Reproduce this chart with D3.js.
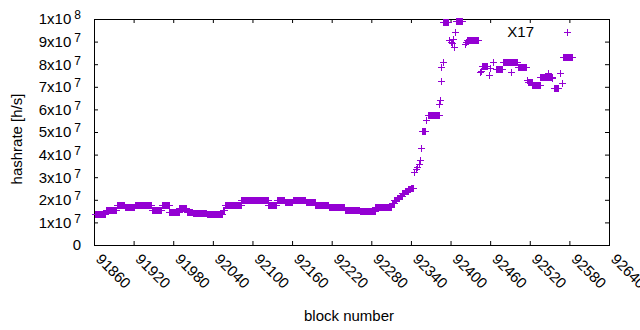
<!DOCTYPE html>
<html>
<head>
<meta charset="utf-8">
<script src="https://cdn.jsdelivr.net/npm/d3@7"></script>
<style>
  body { margin: 0; background: #fff; }
  svg { display: block; font-family: "Liberation Sans", Arial, sans-serif; }
  .axis text { font-size: 15px; fill: #000; }
  .axis line { stroke: #000; }
</style>
</head>
<body>
<svg id="chart" width="640" height="330"></svg>
<script>
// hashrate, in units of 1e7 h/s
// runs: [first block, last block, hashrate] where the value stays flat
const runs = [
  [91862, 91877, 1.35], [91878, 91894, 1.53], [91895, 91906, 1.79],
  [91907, 91921, 1.70], [91922, 91947, 1.79], [91948, 91962, 1.57],
  [91963, 91973, 1.75], [91974, 91988, 1.48], [91989, 92000, 1.62],
  [92001, 92009, 1.48], [92010, 92030, 1.42], [92031, 92054, 1.35],
  [92055, 92057, 1.55], [92058, 92082, 1.76], [92083, 92100, 2.00],
  [92101, 92123, 1.97], [92124, 92136, 1.79], [92137, 92148, 2.01],
  [92149, 92160, 1.92], [92161, 92180, 1.97], [92181, 92194, 1.90],
  [92195, 92215, 1.77], [92216, 92239, 1.66], [92240, 92262, 1.55],
  [92263, 92285, 1.50], [92286, 92310, 1.66], [92311, 92314, 1.85],
  [92315, 92318, 1.98], [92319, 92322, 2.08], [92323, 92326, 2.17],
  [92327, 92330, 2.28], [92331, 92335, 2.38], [92336, 92339, 2.46],
  [92340, 92343, 2.53], [92357, 92362, 5.04], [92366, 92382, 5.75],
  [92389, 92396, 9.85], [92408, 92418, 9.93], [92425, 92442, 9.07],
  [92447, 92455, 7.90], [92469, 92478, 7.80], [92479, 92501, 8.10],
  [92502, 92515, 7.86], [92517, 92523, 7.20], [92524, 92535, 7.08],
  [92536, 92553, 7.45], [92557, 92562, 6.95], [92570, 92584, 8.30]
];
// single blocks that sit apart from the runs: [block, hashrate]
const singles = [
  [92345, 3.23], [92347, 3.35], [92349, 3.45], [92352, 3.58], [92354, 3.76],
  [92356, 4.31], [92363, 5.53], [92383, 6.24], [92384, 6.42], [92386, 7.26],
  [92386, 7.89], [92388, 8.11], [92398, 9.05], [92400, 9.00], [92402, 8.95],
  [92404, 9.10], [92405, 8.75], [92407, 9.42], [92422, 8.90], [92424, 9.00],
  [92445, 7.65], [92446, 7.72], [92458, 7.52], [92460, 7.83], [92464, 8.08],
  [92492, 7.65], [92516, 7.30], [92548, 7.60], [92554, 7.39], [92566, 7.60],
  [92569, 7.17]
];
const xTicks = [91860, 91920, 91980, 92040, 92100, 92160, 92220, 92280,
                92340, 92400, 92460, 92520, 92580, 92640];
const yTicks = [0, 1, 2, 3, 4, 5, 6, 7, 8, 9, 10];
const seriesName = "X17";
const color = "#9400d3";

const svg = d3.select("#chart");
const plot = { left: 94, right: 609, top: 19, bottom: 245 };

const x = d3.scaleLinear().domain([91860, 92640]).range([plot.left, plot.right]);
const y = d3.scaleLinear().domain([0, 10]).range([plot.bottom, plot.top]);

// one point per block inside a run
let points = [];
runs.forEach(function (r) {
  for (let b = r[0]; b <= r[1]; b++) points.push([b, r[2]]);
});
points = points.concat(singles);

// axes, ticks pointing inward like gnuplot
const tick = -4;
svg.append("g").attr("class", "axis")
  .attr("transform", "translate(0," + plot.bottom + ")")
  .call(d3.axisBottom(x).tickValues(xTicks).tickSizeInner(tick).tickSizeOuter(0).tickFormat(() => ""));
svg.append("g").attr("class", "axis")
  .attr("transform", "translate(0," + plot.top + ")")
  .call(d3.axisTop(x).tickValues(xTicks).tickSizeInner(tick).tickSizeOuter(0).tickFormat(() => ""));
const yAxis = svg.append("g").attr("class", "axis")
  .attr("transform", "translate(" + plot.left + ",0)")
  .call(d3.axisLeft(y).tickValues(yTicks).tickSizeInner(tick).tickSizeOuter(0).tickPadding(13).tickFormat(() => ""));
svg.append("g").attr("class", "axis")
  .attr("transform", "translate(" + plot.right + ",0)")
  .call(d3.axisRight(y).tickValues(yTicks).tickSizeInner(tick).tickSizeOuter(0).tickFormat(() => ""));
svg.selectAll(".axis .domain").remove();

// y tick labels: 0, then Nx10^7, and 1x10^8 at the top
yAxis.selectAll(".tick text").each(function (d) {
  const t = d3.select(this);
  if (d === 0) { t.text("0"); return; }
  const mant = d === 10 ? 1 : d;
  const exp = d === 10 ? 8 : 7;
  t.text(null);
  t.append("tspan").text(mant + "x10");
  t.append("tspan").attr("dx", 3).attr("dy", -5).style("font-size", "12px").text(exp);
});

// x tick labels, rotated down to the right
svg.append("g").attr("class", "axis")
  .selectAll("text").data(xTicks).join("text")
  .attr("transform", d => "translate(" + (x(d) + 1) + "," + 260 + ") rotate(45)")
  .attr("text-anchor", "start")
  .text(d => d);

// border
svg.append("rect")
  .attr("x", plot.left + 0.5).attr("y", plot.top + 0.5)
  .attr("width", plot.right - plot.left).attr("height", plot.bottom - plot.top)
  .attr("fill", "none").attr("stroke", "#000").attr("stroke-width", 1);

// axis titles
svg.append("text")
  .attr("transform", "translate(22,139) rotate(-90)")
  .attr("text-anchor", "middle")
  .style("font-size", "15px")
  .text("hashrate [h/s]");
svg.append("text")
  .attr("x", 349).attr("y", 321)
  .attr("text-anchor", "middle")
  .style("font-size", "15px")
  .text("block number");

// points, gnuplot style plus signs
const plus = "M-3.5,0H3.5M0,-3.5V3.5";
svg.append("g")
  .selectAll("path").data(points).join("path")
  .attr("transform", d => "translate(" + (Math.round(x(d[0])) + 0.5) + "," + (Math.round(y(d[1])) + 0.5) + ")")
  .attr("d", plus)
  .attr("stroke", color)
  .attr("stroke-width", 1)
  .attr("fill", "none")
  .attr("shape-rendering", "crispEdges");

// key
svg.append("text")
  .attr("x", 534).attr("y", 32).attr("dy", "0.35em")
  .attr("text-anchor", "end")
  .style("font-size", "15px")
  .text(seriesName);
svg.append("path")
  .attr("transform", "translate(567.5,32.5)")
  .attr("d", plus)
  .attr("stroke", color)
  .attr("fill", "none")
  .attr("shape-rendering", "crispEdges");
</script>
</body>
</html>
